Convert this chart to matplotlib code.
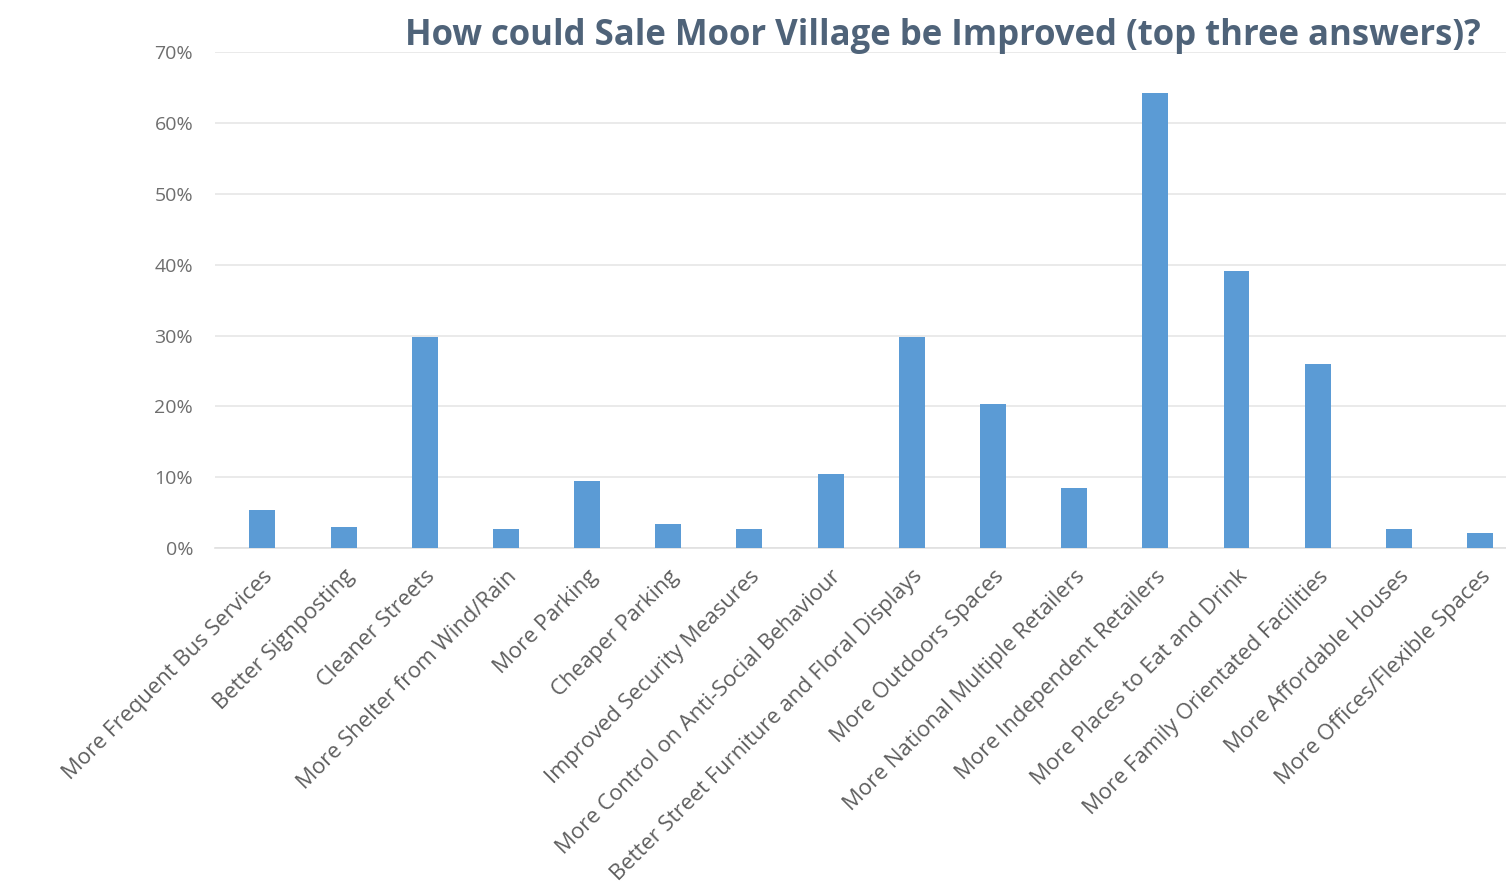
import matplotlib.pyplot as plt
from matplotlib.ticker import PercentFormatter

categories = [
    "More Frequent Bus Services", "Better Signposting", "Cleaner Streets",
    "More Shelter from Wind/Rain", "More Parking", "Cheaper Parking",
    "Improved Security Measures", "More Control on Anti-Social Behaviour",
    "Better Street Furniture and Floral Displays", "More Outdoors Spaces",
    "More National Multiple Retailers", "More Independent Retailers",
    "More Places to Eat and Drink", "More Family Orientated Facilities",
    "More Affordable Houses", "More Offices/Flexible Spaces",
]
values = [0.054, 0.030, 0.298, 0.027, 0.094, 0.034, 0.027, 0.104,
          0.298, 0.203, 0.085, 0.642, 0.391, 0.260, 0.027, 0.021]
yticks = [0, 0.1, 0.2, 0.3, 0.4, 0.5, 0.6, 0.7]

fig = plt.figure(figsize=(15.06, 8.88), dpi=100)
ax = fig.add_axes([0.143, 0.383, 0.857, 0.558])

x = range(len(categories))
ax.bar(x, values, width=0.32, color="#5b9bd5", zorder=3)

ax.set_ylim(0, 0.70)
ax.set_xlim(-0.58, 15.32)
ax.set_yticks(yticks)
ax.yaxis.set_major_formatter(PercentFormatter(1.0, decimals=0))
ax.grid(axis="y", color="#e6e6e6", linewidth=1.2, zorder=0)
for s in ["top", "right", "left"]:
    ax.spines[s].set_visible(False)
ax.spines["bottom"].set_color("#e0e0e0")
ax.spines["bottom"].set_linewidth(1.2)
ax.tick_params(axis="y", length=0, colors="#6e6e6e", labelsize=14, pad=16)
ax.tick_params(axis="x", length=0, pad=13)

ax.set_xticks(list(x))
ax.set_xticklabels(categories, rotation=45, ha="right", rotation_mode="anchor",
                   fontsize=15.8, color="#5e5e5e", family="Open Sans")
for lbl in ax.get_yticklabels():
    lbl.set_family("Open Sans")

fig.text(0.626, 0.96, "How could Sale Moor Village be Improved (top three answers)?",
         ha="center", va="center", fontsize=25, fontweight="bold",
         color="#4f6379", family="Open Sans")

fig.savefig("out.png", dpi=100)
